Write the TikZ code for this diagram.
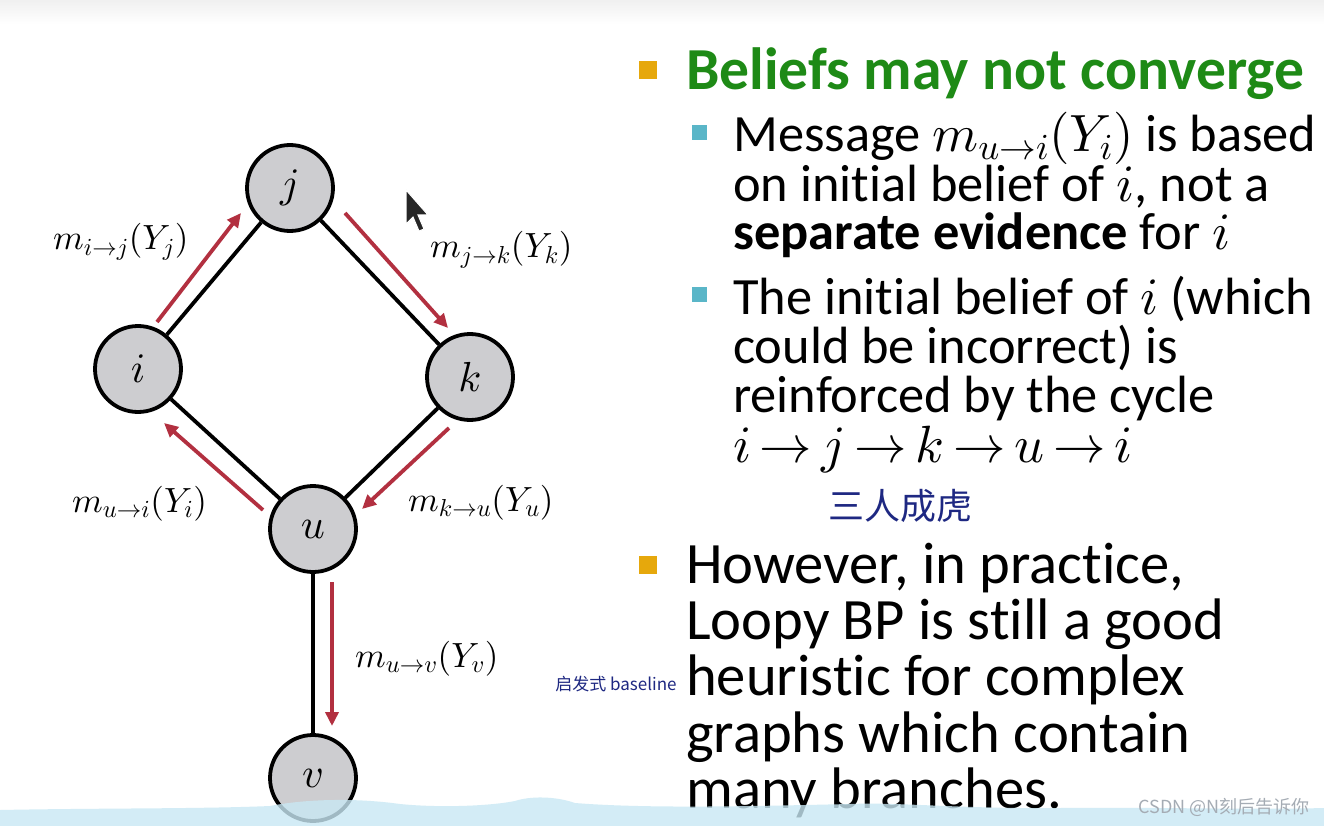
\documentclass[tikz,border=0pt]{standalone}
\usepackage{fontspec}
\setmainfont{Carlito}[Ligatures=NoCommon]
\newfontfamily\cjk{Noto Sans CJK SC}
\DeclareFontFamily{OML}{cmm}{\skewchar\font127 }
\DeclareFontShape{OML}{cmm}{m}{it}{<->cmmi10}{}
\DeclareFontShape{OML}{cmm}{b}{it}{<->cmmib10}{}
\DeclareFontFamily{OMS}{cmsy}{\skewchar\font48 }
\DeclareFontShape{OMS}{cmsy}{m}{n}{<->cmsy10}{}
\DeclareFontShape{OMS}{cmsy}{b}{n}{<->cmbsy10}{}
\DeclareFontFamily{OT1}{cmr}{\hyphenchar\font45 }
\DeclareFontShape{OT1}{cmr}{m}{n}{<->cmr10}{}
\usetikzlibrary{arrows.meta}
\definecolor{nodegray}{RGB}{205,205,208}
\definecolor{msgred}{RGB}{178,48,64}
\definecolor{titlegreen}{RGB}{30,138,22}
\definecolor{bulorange}{RGB}{230,168,12}
\definecolor{bulblue}{RGB}{90,182,200}
\definecolor{inkblue}{RGB}{30,40,130}
\definecolor{water}{RGB}{200,232,244}
\definecolor{wmgray}{RGB}{165,172,180}
\tikzset{
  vert/.style={circle, draw=black, line width=3.8pt, fill=nodegray, minimum size=86pt, inner sep=0pt, font=\fontsize{42}{42}\selectfont},
  edgeline/.style={line width=3.8pt},
  msg/.style={draw=msgred, line width=3.8pt, -{Triangle[length=14pt,width=13pt]}},
  msglabel/.style={anchor=base west, inner sep=0pt, font=\fontsize{35}{35}\selectfont},
  titleline/.style={anchor=base west, inner sep=0pt, text=titlegreen, font=\fontsize{59.6}{59.6}\selectfont\bfseries},
  subline/.style={anchor=base west, inner sep=0pt, text height=36pt, text depth=10pt, font=\fontsize{52.4}{52.4}\selectfont},
  mainline/.style={anchor=base west, inner sep=0pt, text height=41pt, text depth=13pt, font=\fontsize{58.6}{58.6}\selectfont},
  hand/.style={inner sep=0pt, text=inkblue},
}
\begin{document}
\begin{tikzpicture}[x=1pt,y=-1pt]
\useasboundingbox (0,0) rectangle (1324,826);
\fill[white] (0,0) rectangle (1324,826);
\shade[top color=black!6, bottom color=white] (0,0) rectangle (1324,24);

% graph
\node[vert] (j) at (290,188) {$j$};
\node[vert] (i) at (138,369) {$i$};
\node[vert] (k) at (470,377) {$k$};
\node[vert] (u) at (313,529) {$u$};
\node[vert] (v) at (313,778) {$v$};
\draw[edgeline] (i) -- (j);
\draw[edgeline] (j) -- (k);
\draw[edgeline] (k) -- (u);
\draw[edgeline] (u) -- (i);
\draw[edgeline] (u) -- (v);

\coordinate (ij1) at (157,322); \coordinate (ij2) at (241,213);
\coordinate (jk1) at (345,213); \coordinate (jk2) at (448,328);
\coordinate (ku1) at (449,428); \coordinate (ku2) at (362,509);
\coordinate (ui1) at (263,510); \coordinate (ui2) at (164,423);
\coordinate (uv1) at (332,582); \coordinate (uv2) at (332,726);
\draw[msg] (ij1) -- (ij2);
\draw[msg] (jk1) -- (jk2);
\draw[msg] (ku1) -- (ku2);
\draw[msg] (ui1) -- (ui2);
\draw[msg] (uv1) -- (uv2);

\node[msglabel] (lij) at (53,250) {$m_{i\to j}(Y_j)$};
\node[msglabel] (ljk) at (430,258) {$m_{j\to k}(Y_k)$};
\node[msglabel] (lui) at (72,512) {$m_{u\to i}(Y_i)$};
\node[msglabel] (lku) at (408,511) {$m_{k\to u}(Y_u)$};
\node[msglabel] (luv) at (355,667) {$m_{u\to v}(Y_v)$};

% mouse cursor
\fill[black!85, draw=white, line width=1pt] (406,190) -- (406,224) -- (413,217) -- (419,231) -- (424,229) -- (418,215) -- (428,215) -- cycle;

% bullets
\fill[bulorange] (639,61) rectangle (657,79);
\fill[bulblue] (692,125) rectangle (707,140);
\fill[bulblue] (692,287) rectangle (707,302);
\fill[bulorange] (639,556) rectangle (657,574);

% text
\node[titleline] (t0) at (686,90) {Beliefs may not converge};
\node[subline] (a1) at (733,152) {Message $m_{u\to i}(Y_i)$ is based};
\node[subline] (a2) at (733,202) {on initial belief of $i$, not a};
\node[subline] (a3) at (733,250) {\textbf{separate evidence} for $i$};
\node[subline] (b1) at (733,314) {The initial belief of $i$ (which};
\node[subline] (b2) at (733,363) {could be incorrect) is};
\node[subline] (b3) at (733,412) {reinforced by the cycle};
\node[subline] (b4) at (733,462) {\thickmuskip=3mu $i\to j\to k\to u\to i$};
\node[mainline] (c1) at (686,583) {However, in practice,};
\node[mainline] (c2) at (686,639) {Loopy BP is still a good};
\node[mainline] (c3) at (686,695) {heuristic for complex};
\node[mainline] (c4) at (686,752) {graphs which contain};
\node[mainline] (c5) at (686,808) {many branches.};

% handwriting
\node[hand, font=\cjk\fontsize{36}{36}\selectfont] (h1) at (900,506) {三人成虎};
\node[hand, font=\cjk\fontsize{17}{17}\selectfont] (h2) at (616,684) {启发式 baseline};

% water band
\fill[water, opacity=0.8] (0,826) -- (0,810) .. controls (100,808) and (200,809) .. (270,806)
  .. controls (300,800) and (350,797) .. (400,804) .. controls (440,808) and (490,806) .. (515,801)
  .. controls (530,796) and (555,796) .. (575,803) .. controls (650,809) and (760,806) .. (850,804)
  .. controls (900,802) and (960,809) .. (1060,808) .. controls (1160,807) and (1250,810) .. (1324,808)
  -- (1324,826) -- cycle;

% watermark
\node[anchor=base east, inner sep=0pt, text=wmgray, font=\cjk\fontsize{18}{18}\selectfont] (wm) at (1310,813) {CSDN @N刻后告诉你};
\end{tikzpicture}
\end{document}
